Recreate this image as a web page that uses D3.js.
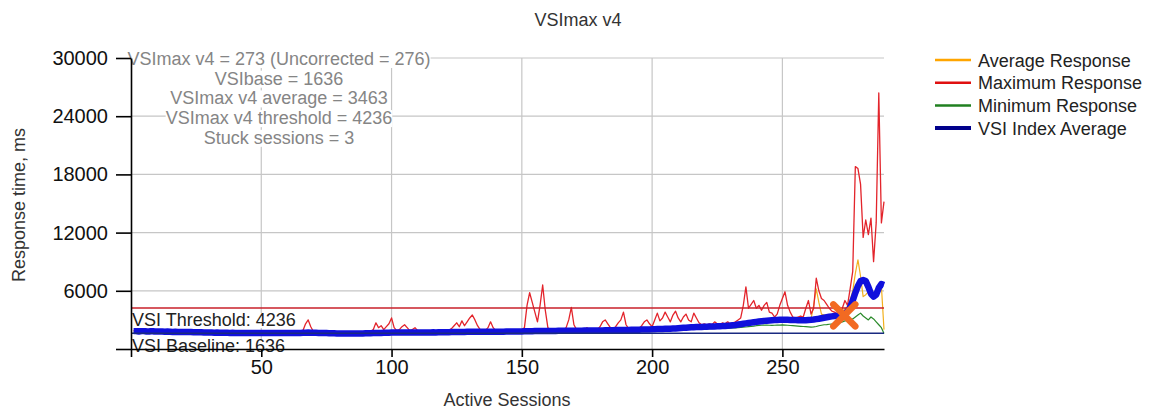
<!DOCTYPE html>
<html><head><meta charset="utf-8">
<script src="https://cdn.jsdelivr.net/npm/d3@7"></script>
<style>body{margin:0;background:#fff;overflow:hidden} text{font-family:"Liberation Sans",Arial,sans-serif;}</style>
</head><body><svg id="c" width="1163" height="412"></svg>
<script>
// ---------- DATA ----------
const title = "VSImax v4";
const xTitle = "Active Sessions";
const yTitle = "Response time, ms";
const xTickValues = [0, 50, 100, 150, 200, 250];
const yTickValues = [0, 6000, 12000, 18000, 24000, 30000];
const annotationLines = [
  "VSImax v4 = 273 (Uncorrected = 276)",
  "VSIbase = 1636",
  "VSImax v4 average = 3463",
  "VSImax v4 threshold = 4236",
  "Stuck sessions = 3"
];
const vsiThreshold = 4236;
const vsiBaseline = 1636;
const vsiMaxSession = 273;
const vsiMaxValue = 3463;
const legendNames = ["Average Response", "Maximum Response", "Minimum Response", "VSI Index Average"];

const averageResponse = [
1880,1870,1850,1880,1870,1830,1840,1880,1830,1840,
1830,1820,1810,1830,1800,1790,1810,1790,1780,1790,
1780,1770,1780,1760,1760,1750,1750,1730,1730,1730,
1720,1710,1720,1710,1700,1710,1700,1690,1700,1690,
1690,1680,1690,1680,1680,1690,1680,1680,1670,1680,
1680,1670,1680,1670,1670,1680,1670,1670,1680,1670,
1680,1680,1690,1680,1690,1720,1760,1800,1730,1700,
1700,1690,1680,1670,1670,1660,1650,1650,1640,1640,
1630,1630,1620,1630,1630,1630,1640,1630,1640,1650,
1650,1670,1690,1740,1720,1720,1710,1730,1740,1790,
1740,1720,1730,1750,1760,1740,1730,1730,1750,1730,
1730,1730,1740,1730,1740,1750,1740,1750,1750,1750,
1760,1760,1780,1800,1820,1800,1830,1810,1830,1850,
1870,1850,1820,1810,1800,1800,1820,1850,1820,1820,
1820,1820,1820,1830,1830,1830,1830,1840,1840,1850,
1870,1990,2080,2020,1950,1900,2000,2100,1950,1890,
1890,1890,1890,1900,1900,1900,1920,1950,2000,1920,
1920,1920,1920,1930,1940,1930,1940,1940,1940,1960,
1970,1990,1980,1970,1970,1990,2010,2030,2060,2010,
2000,2010,2010,2020,2030,2050,2070,2080,2070,2070,
2100,2130,2120,2130,2160,2150,2140,2170,2190,2180,
2190,2220,2250,2250,2270,2300,2300,2300,2300,2320,
2330,2340,2350,2360,2370,2380,2390,2410,2430,2450,
2480,2510,2550,2600,2680,2800,2750,2800,2850,2880,
2910,2930,2960,2990,2990,3000,3010,3040,3080,3150,
3200,3100,3050,3030,3020,3010,3000,3000,3050,3200,
3100,4500,6200,4800,3600,3500,3400,3450,3450,3480,
3500,3550,3800,4200,4300,5000,6000,7800,9200,7500,
5400,5600,5900,5500,5800,5600,6200,6500,2000
];

const maximumResponse = [
1900,1850,1900,1950,1900,1850,1900,1900,1850,1900,
1900,1850,1900,1850,1800,1850,1900,1850,1800,1850,
1850,1800,1850,1800,1800,1850,1800,1750,1800,1750,
1750,1700,1750,1700,1750,1700,1750,1700,1700,1750,
1700,1750,1700,1700,1750,1700,1700,1750,1700,1700,
1750,1700,1700,1750,1700,1700,1750,1700,1700,1700,
1750,1700,1700,1750,1800,1900,2600,3000,2300,1800,
1750,1700,1700,1750,1700,1700,1700,1750,1700,1700,
1650,1700,1650,1700,1650,1650,1700,1650,1700,1650,
1700,1800,2000,2700,2200,2400,2000,2300,2600,3200,
2200,1900,2000,2300,2500,2200,1900,2000,2200,1900,
1800,1800,1850,1800,1800,1850,1800,1800,1850,1800,
1850,1900,2100,2400,2700,2300,2900,2400,2800,3200,
3500,3000,2400,2000,1900,1900,2200,2800,2200,1900,
1850,1900,1850,1900,1850,1900,1900,1850,1900,2000,
2200,4500,5800,4800,3800,2800,4500,6600,4000,2200,
2000,1950,1950,1950,2000,2000,2200,3000,4300,2500,
2000,1950,1950,2000,2200,2000,1950,1950,2000,2300,
2800,3000,2600,2200,2000,2300,2700,3000,3800,2500,
2100,2000,2000,2050,2100,2400,2800,3000,2600,2300,
3000,3700,2900,3200,3800,3300,2800,3500,3900,3200,
2800,3300,3600,3000,2800,3700,3200,2700,2500,2600,
2500,2600,2500,2800,2600,2500,2700,2600,2800,2600,
2700,2800,3000,3200,4500,6400,4200,4600,5000,4200,
4500,4000,4500,4800,3800,3700,3300,3600,4500,5200,
5900,4500,3800,3300,3200,3300,3400,3300,4200,5000,
3600,4200,7300,6000,5200,5000,4600,4200,3900,3800,
3600,3400,4200,5000,4500,6200,8000,18800,18600,17000,
11500,13300,11800,13500,9000,13000,26400,13000,15200
];

const minimumResponse = [
1720,1730,1690,1720,1730,1690,1680,1720,1690,1680,
1690,1690,1670,1690,1670,1650,1670,1650,1640,1650,
1640,1630,1640,1620,1620,1610,1610,1590,1590,1590,
1580,1570,1580,1570,1560,1570,1560,1550,1560,1550,
1550,1540,1550,1540,1540,1550,1540,1540,1530,1540,
1540,1530,1540,1530,1530,1540,1530,1530,1540,1530,
1540,1540,1550,1540,1550,1560,1570,1580,1570,1570,
1560,1550,1540,1530,1530,1520,1510,1510,1500,1500,
1490,1490,1480,1490,1490,1490,1500,1490,1500,1510,
1510,1520,1530,1540,1550,1550,1560,1570,1570,1580,
1580,1580,1590,1590,1590,1590,1590,1590,1600,1590,
1590,1590,1600,1590,1600,1610,1600,1610,1610,1610,
1620,1620,1630,1630,1640,1640,1650,1650,1660,1660,
1660,1670,1670,1670,1660,1660,1670,1670,1670,1680,
1680,1680,1680,1690,1690,1690,1690,1700,1700,1700,
1710,1710,1720,1730,1740,1740,1750,1750,1750,1750,
1750,1750,1750,1760,1760,1760,1770,1770,1770,1770,
1780,1780,1780,1790,1790,1790,1800,1800,1800,1810,
1810,1820,1820,1830,1830,1840,1840,1850,1850,1860,
1860,1870,1870,1880,1880,1890,1890,1900,1910,1920,
1920,1930,1940,1950,1960,1970,1970,1980,1990,2000,
2010,2020,2040,2050,2060,2070,2080,2080,2090,2100,
2100,2110,2110,2120,2120,2130,2130,2140,2150,2160,
2170,2180,2200,2220,2250,2270,2300,2330,2360,2400,
2430,2450,2470,2460,2450,2440,2450,2460,2470,2480,
2470,2450,2420,2400,2380,2360,2340,2320,2300,2280,
2250,2280,2320,2400,2450,2500,2520,2550,2580,2600,
2650,2700,2800,2900,2950,3000,3100,3300,3500,3700,
3400,3200,3000,3300,3100,2800,2500,2200,1600
];

const vsiIndexAverage = [
1850,1850,1800,1850,1850,1800,1800,1850,1800,1800,
1800,1800,1780,1800,1780,1760,1780,1760,1750,1760,
1750,1740,1750,1730,1730,1720,1720,1700,1700,1700,
1690,1680,1690,1680,1670,1680,1670,1660,1670,1660,
1660,1650,1660,1650,1650,1660,1650,1650,1640,1650,
1650,1640,1650,1640,1640,1650,1640,1640,1650,1640,
1650,1650,1660,1650,1660,1670,1680,1690,1680,1680,
1670,1660,1650,1640,1640,1630,1620,1620,1610,1610,
1600,1600,1590,1600,1600,1600,1610,1600,1610,1620,
1620,1630,1640,1650,1660,1660,1670,1680,1680,1690,
1690,1690,1700,1700,1700,1700,1700,1700,1710,1700,
1700,1700,1710,1700,1710,1720,1710,1720,1720,1720,
1730,1730,1740,1740,1750,1750,1760,1760,1770,1770,
1770,1780,1780,1780,1770,1770,1780,1780,1780,1790,
1790,1790,1790,1800,1800,1800,1800,1810,1810,1810,
1820,1820,1830,1840,1850,1850,1860,1860,1860,1860,
1860,1860,1860,1870,1870,1870,1880,1880,1880,1880,
1890,1890,1890,1900,1900,1900,1910,1910,1910,1920,
1920,1930,1930,1940,1940,1950,1950,1960,1960,1970,
1970,1980,1980,1990,1990,2000,2000,2010,2020,2030,
2040,2050,2060,2070,2080,2090,2100,2110,2120,2140,
2160,2180,2200,2220,2240,2250,2260,2270,2280,2290,
2300,2310,2320,2330,2340,2350,2360,2380,2400,2420,
2450,2480,2520,2560,2600,2640,2680,2720,2760,2800,
2840,2870,2900,2920,2940,2960,2980,3000,3010,3020,
3020,3010,3000,2990,2980,2970,2960,2960,2970,2990,
3010,3040,3080,3120,3170,3220,3270,3320,3360,3400,
3420,3440,3463,3600,3900,4300,5000,5800,6500,7000,
7100,7000,6400,5700,5400,5600,6300,6700,6600
];

// ---------- CHART ----------
const W = 1163, H = 412;
const M = {left: 131, right: 884, top: 58, bottom: 349};
const svg = d3.select("#c");
svg.append("rect").attr("width", W).attr("height", H).attr("fill", "#fff");

const sessions = averageResponse.map((d, i) => i + 1);
const x = d3.scaleLinear().domain([0, 289]).range([M.left, M.right]);
const y = d3.scaleLinear().domain([0, 30000]).range([M.bottom, M.top]);

// grid
const grid = svg.append("g").attr("stroke", "#c6c6c6").attr("stroke-width", 1.2);
yTickValues.filter(v => v > 0).forEach(v => {
  grid.append("line").attr("x1", M.left).attr("x2", M.right).attr("y1", y(v)).attr("y2", y(v));
});
xTickValues.filter(v => v > 0).forEach(v => {
  grid.append("line").attr("x1", x(v)).attr("x2", x(v)).attr("y1", M.top).attr("y2", M.bottom);
});

// annotation text with white backgrounds
const ann = svg.append("g");
annotationLines.forEach((t, i) => {
  const g = ann.append("g");
  const rect = g.append("rect").attr("fill", "#fff");
  const tx = g.append("text").attr("x", 279).attr("y", 65 + i * 19.7)
    .attr("text-anchor", "middle").attr("font-size", 18).attr("fill", "#858585").text(t);
  const b = tx.node().getBBox();
  rect.attr("x", b.x).attr("y", b.y + 2).attr("width", b.width).attr("height", b.height - 3);
});

// threshold / baseline labels background
const labels = [
  {t: "VSI Threshold: " + vsiThreshold, yy: 326},
  {t: "VSI Baseline: " + vsiBaseline, yy: 352}
];
const labG = svg.append("g");
labels.forEach(l => {
  const tx = labG.append("text").attr("x", 132).attr("y", l.yy).attr("font-size", 18)
    .attr("fill", "#222").text(l.t);
  const b = tx.node().getBBox();
  labG.insert("rect", "text").attr("x", b.x).attr("y", b.y + 3).attr("width", b.width).attr("height", b.height - 5).attr("fill", "#fff");
});

// series
const line = d3.line().x((d, i) => x(sessions[i])).y(d => y(d));
const series = [
  {data: averageResponse, color: "#f2b01e", w: 1.2},
  {data: maximumResponse, color: "#e3242b", w: 1.3},
  {data: minimumResponse, color: "#2a8a2a", w: 1.2},
  {data: vsiIndexAverage, color: "#1010dc", w: 6.5}
];
series.forEach(s => {
  svg.append("path").datum(s.data).attr("d", line).attr("fill", "none")
    .attr("stroke", s.color).attr("stroke-width", s.w).attr("stroke-linejoin", "round");
});

// threshold and baseline lines
svg.append("line").attr("x1", M.left).attr("x2", M.right).attr("y1", y(vsiThreshold)).attr("y2", y(vsiThreshold))
  .attr("stroke", "#c8202a").attr("stroke-width", 1.5);
svg.append("line").attr("x1", M.left).attr("x2", M.right).attr("y1", y(vsiBaseline)).attr("y2", y(vsiBaseline))
  .attr("stroke", "#1a2a80").attr("stroke-width", 1.5);

// bring label text to front
labG.raise();

// axes
const xAxis = d3.axisBottom(x).tickValues(xTickValues).tickFormat(d => d === 0 ? "" : d)
  .tickSize(8).tickSizeOuter(0).tickPadding(3);
const yAxis = d3.axisLeft(y).tickValues(yTickValues).tickFormat(d => d === 0 ? "" : d)
  .tickSize(15).tickSizeOuter(0).tickPadding(8);
const gx = svg.append("g").attr("transform", `translate(0,${M.bottom})`).call(xAxis);
const gy = svg.append("g").attr("transform", `translate(${M.left},0)`).call(yAxis);
[gx, gy].forEach(g => {
  g.select(".domain").attr("stroke", "#000").attr("stroke-width", 1.6);
  g.selectAll(".tick line").attr("stroke", "#000").attr("stroke-width", 1.6);
  g.selectAll(".tick text").attr("font-size", 20).attr("fill", "#111")
    .attr("font-family", '"Liberation Sans",Arial,sans-serif');
});

// VSImax marker
const cx = x(vsiMaxSession) + 2, cy = y(vsiMaxValue);
const mk = svg.append("g").attr("stroke", "#f26a22").attr("stroke-width", 6.5).attr("stroke-linecap", "round");
mk.append("line").attr("x1", cx - 11).attr("y1", cy - 11).attr("x2", cx + 11).attr("y2", cy + 11);
mk.append("line").attr("x1", cx - 11).attr("y1", cy + 11).attr("x2", cx + 11).attr("y2", cy - 11);

// titles
svg.append("text").attr("x", 578).attr("y", 26).attr("text-anchor", "middle").attr("font-size", 18)
  .attr("fill", "#333").text(title);
svg.append("text").attr("x", 507).attr("y", 406).attr("text-anchor", "middle").attr("font-size", 18)
  .attr("fill", "#333").text(xTitle);
svg.append("text").attr("transform", "translate(25,205) rotate(-90)").attr("text-anchor", "middle")
  .attr("font-size", 18).attr("fill", "#333").text(yTitle);

// legend
const legColors = ["#ffa500", "#e01010", "#208020", "#00008b"];
const legW = [2.5, 2.5, 2.5, 4];
const lg = svg.append("g");
legendNames.forEach((n, i) => {
  const cyL = 60 + i * 22.7;
  lg.append("line").attr("x1", 935).attr("x2", 971).attr("y1", cyL).attr("y2", cyL)
    .attr("stroke", legColors[i]).attr("stroke-width", legW[i]);
  lg.append("text").attr("x", 978).attr("y", cyL + 6.5).attr("font-size", 18).attr("fill", "#222").text(n);
});
</script>
</body></html>
